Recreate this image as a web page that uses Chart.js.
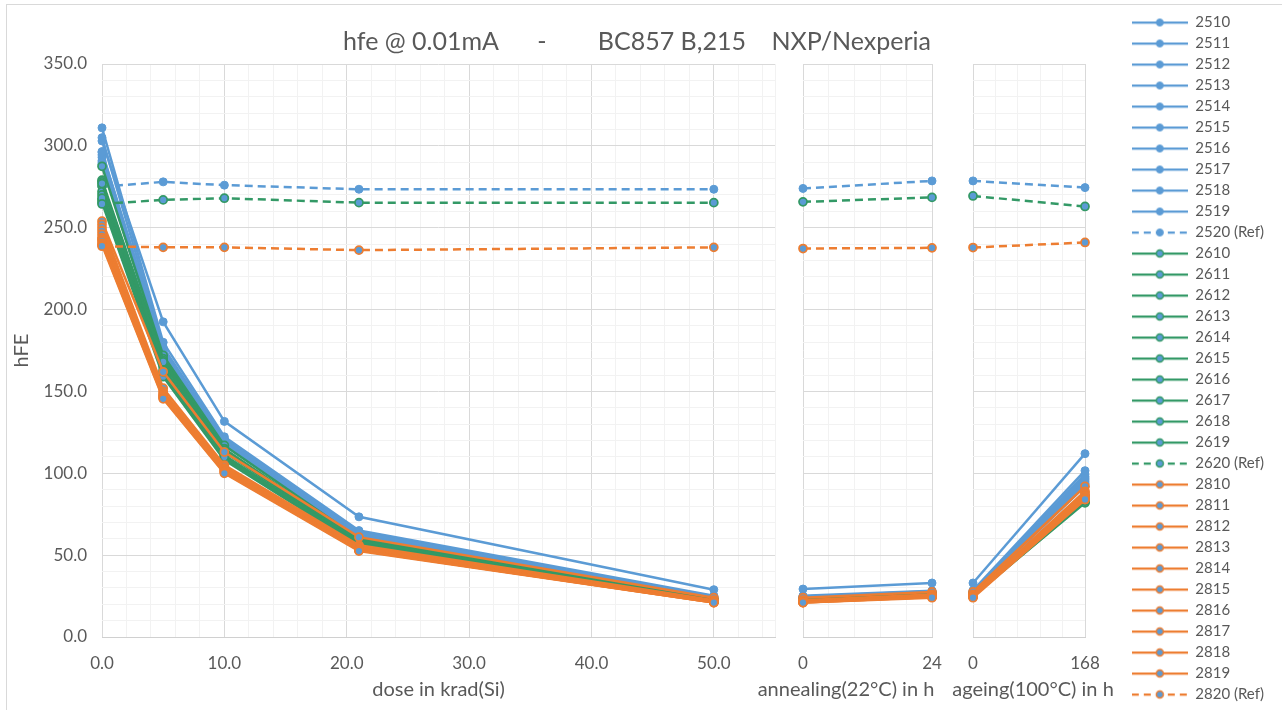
<!DOCTYPE html>
<html>
<head>
<meta charset="utf-8">
<script src="https://cdn.jsdelivr.net/npm/chart.js@4.4.1/dist/chart.umd.min.js"></script>
<style>
  body { margin: 0; background: #fff; }
  #frame { position: absolute; left: 6px; top: 4px; width: 1300px; height: 720px; border: 1px solid #d9d9d9; }
  canvas { position: absolute; top: 0; }
  #dose { left: 0; }
  #anneal { left: 728px; }
  #age { left: 943px; }
</style>
</head>
<body>
<div id="frame"></div>
<canvas id="dose" width="1282" height="710"></canvas>
<canvas id="anneal" width="236" height="710"></canvas>
<canvas id="age" width="180" height="710"></canvas>
<script>
// x positions of the three panels
const doseKrad = [0, 5, 10, 21, 50];
const annealHours = [0, 24];
const ageHours = [0, 168];

const sampleNames = [
  '2510', '2511', '2512', '2513', '2514', '2515', '2516', '2517', '2518', '2519', '2520 (Ref)',
  '2610', '2611', '2612', '2613', '2614', '2615', '2616', '2617', '2618', '2619', '2620 (Ref)',
  '2810', '2811', '2812', '2813', '2814', '2815', '2816', '2817', '2818', '2819', '2820 (Ref)'
];

// hFE per sample, one row per entry of sampleNames
const doseHfe = [
  [303, 192.5, 131.7, 73.4, 28.9],
  [311, 180, 122.3, 65, 25.2],
  [305, 177, 121, 64, 24.8],
  [296, 175, 120, 63.5, 24.5],
  [294.5, 174, 119, 63, 24.3],
  [293, 173, 118.5, 62.5, 24],
  [291, 172, 118, 62, 24],
  [289, 171, 117.5, 62, 23.8],
  [296.5, 176, 120.5, 63.5, 24.5],
  [290, 171.5, 117, 61.5, 23.5],
  [275, 278, 276, 273.5, 273.5],
  [287.5, 172, 117, 60, 23],
  [279, 170, 115, 59, 22.5],
  [278, 169, 114, 58.5, 22.5],
  [275.5, 167, 113, 58, 22],
  [272, 165, 111, 57.5, 22],
  [270, 163, 110, 57, 22],
  [267, 161, 109, 56.5, 21.5],
  [265.5, 159, 108, 56, 21.5],
  [277, 168, 114, 58.5, 22.5],
  [268, 162, 110, 57, 22],
  [264.5, 267, 268, 265.3, 265.3],
  [254, 162, 113, 61, 24],
  [252, 152, 105, 56, 22.5],
  [250, 150, 104, 55.5, 22],
  [248, 149, 103, 55, 22],
  [246, 148, 102.5, 54.5, 21.5],
  [244, 147.5, 102, 54, 21.5],
  [243, 147, 101.5, 53.5, 21.5],
  [242, 146.5, 101, 53, 21],
  [240.5, 146, 100.5, 53, 21],
  [239.5, 145.5, 100, 52.5, 21],
  [238.7, 238, 238, 236.3, 238]
];

const annealHfe = [
  [29.3, 33], [25.2, 28.3], [24.8, 28], [24.5, 27.5], [24.3, 27.3], [24, 27], [24, 27], [23.8, 26.8], [24.5, 27.5], [23.5, 26.5],
  [274, 278.6],
  [23, 26.5], [22.5, 26], [22.5, 26], [22, 25.5], [22, 25.5], [22, 25], [21.5, 25], [21.5, 25], [22.5, 26], [22, 25.5],
  [265.8, 268.5],
  [24, 27.5], [22.5, 26], [22, 25.5], [22, 25.5], [21.5, 25], [21.5, 25], [21.5, 24.5], [21, 24.5], [21, 24.5], [21, 24],
  [237.3, 237.7]
];

const ageHfe = [
  [33, 112], [28.5, 101.6], [28, 99.5], [27.5, 98], [27.3, 96], [27, 95], [27, 94], [26.8, 93.4], [27.5, 97], [26.5, 92],
  [278.6, 274.5],
  [26.5, 86], [26, 85], [26, 84.5], [25.5, 84], [25.5, 83.5], [25, 83], [25, 82.5], [25, 82], [26, 85], [25.5, 83],
  [269.4, 263],
  [27.5, 92], [26, 89], [25.5, 88], [25.5, 87], [25, 86], [25, 86], [25, 85], [24.5, 85], [24.5, 84], [24, 84],
  [237.9, 241]
];

const BLUE = '#5B9BD5';
const GREEN = '#339966';
const ORANGE = '#ED7D31';
const TXT = '#595959';
const MAJOR = '#d9d9d9';
const MINOR = '#f2f2f2';

Chart.defaults.font.family = 'Lato';
Chart.defaults.color = TXT;

function groupColor(name) {
  if (name.startsWith('25')) return BLUE;
  if (name.startsWith('26')) return GREEN;
  return ORANGE;
}

function makeIcon(color, dashed) {
  const c = document.createElement('canvas');
  c.width = 56; c.height = 12;
  const g = c.getContext('2d');
  g.strokeStyle = color;
  g.lineWidth = 2.25;
  if (dashed) g.setLineDash([7, 5]);
  g.beginPath(); g.moveTo(0, 6); g.lineTo(56, 6); g.stroke();
  g.setLineDash([]);
  g.beginPath(); g.arc(28, 6, 3.5, 0, Math.PI * 2);
  g.fillStyle = BLUE; g.fill();
  g.lineWidth = color === BLUE ? 1 : 1.5;
  g.stroke();
  return c;
}
const icons = sampleNames.map(n => makeIcon(groupColor(n), n.includes('Ref')));

function datasets(xs, table) {
  return sampleNames.map((name, i) => {
    const col = groupColor(name);
    return {
      label: name,
      data: xs.map((x, k) => ({ x: x, y: table[i][k] })),
      borderColor: col,
      backgroundColor: col,
      borderWidth: 2.5,
      borderDash: name.includes('Ref') ? [8, 5] : [],
      pointRadius: 4,
      pointHoverRadius: 4,
      pointBackgroundColor: BLUE,
      pointBorderColor: col,
      pointBorderWidth: col === BLUE ? 1 : 1.75,
      tension: 0,
      clip: false,
      order: -i
    };
  });
}

function yAxis(width, labels) {
  return {
    type: 'linear', position: 'left', min: 0, max: 350,
    border: { display: false },
    grid: { drawTicks: false, color: c => (c.tick && c.tick.value % 50 === 0) ? MAJOR : MINOR },
    ticks: {
      display: labels, stepSize: 10, autoSkip: false, padding: 15, color: TXT, font: { size: 17 },
      callback: v => v % 50 === 0 ? v.toFixed(1) : ''
    },
    title: { display: labels, text: 'hFE', color: TXT, font: { size: 20 }, padding: { top: 10, bottom: 0 } },
    afterFit: s => { s.width = width; }
  };
}

function xAxis(min, max, step, isMajor, fmt, title, height) {
  return {
    type: 'linear', position: 'bottom', min: min, max: max, bounds: 'data',
    border: { display: true, color: '#d0d0d0' },
    grid: { drawTicks: false, color: c => (c.tick && isMajor(c.tick.value)) ? MAJOR : MINOR },
    ticks: {
      stepSize: step, includeBounds: false, autoSkip: false, maxRotation: 0, padding: 16,
      color: TXT, font: { size: 17 },
      callback: v => isMajor(v) ? fmt(v) : ''
    },
    title: { display: !!title, text: title, color: TXT, font: { size: 20 }, padding: { top: 0, bottom: 6 } },
    afterFit: s => { s.height = height; }
  };
}

function spacer(position, size) {
  return {
    type: 'linear', position: position, display: true,
    grid: { display: false }, ticks: { display: false }, border: { display: false },
    afterFit: s => {
      const v = typeof size === 'function' ? size(s) : size;
      if (position === 'top' || position === 'bottom') s.height = v; else s.width = v;
    }
  };
}

// axis title drawn under a narrow panel, as the chart's bottom title
function panelTitle(text) {
  return {
    display: true, position: 'bottom', text: text, color: TXT,
    font: { size: 20, weight: 'normal' }, padding: { top: 0, bottom: 8 }
  };
}

const baseOptions = {
  responsive: false,
  animation: false,
  events: []
};

// panel 1: dose, with chart title and legend
new Chart(document.getElementById('dose'), {
  type: 'line',
  data: { datasets: datasets(doseKrad, doseHfe) },
  options: {
    ...baseOptions,
    layout: { padding: { right: 8, bottom: 2 }, autoPadding: false },
    plugins: {
      tooltip: { enabled: false },
      title: {
        display: true,
        text: 'hfe @ 0.01mA      -        BC857 B,215    NXP/Nexperia',
        color: TXT,
        font: { size: 25, weight: 'normal' },
        padding: { top: 27, bottom: 7 }
      },
      legend: {
        display: true,
        position: 'right',
        align: 'end',
        labels: {
          usePointStyle: true,
          pointStyleWidth: 56,
          boxHeight: 12,
          padding: 6,
          color: TXT,
          font: { size: 15 },
          generateLabels: chart => Chart.defaults.plugins.legend.labels.generateLabels(chart)
            .map(l => ({ ...l, pointStyle: icons[l.datasetIndex] })),
          sort: (a, b) => a.datasetIndex - b.datasetIndex
        }
      }
    },
    scales: {
      x: xAxis(0, 55, 2, v => v % 10 === 0, v => v.toFixed(1), 'dose in krad(Si)', 71),
      y: yAxis(102, true),
      padRight: spacer('right', s => Math.max(0, 1282 - 8 - 775 - s.chart.legend.width))
    }
  }
});

// panel 2: annealing
new Chart(document.getElementById('anneal'), {
  type: 'line',
  data: { datasets: datasets(annealHours, annealHfe) },
  options: {
    ...baseOptions,
    layout: { autoPadding: false },
    plugins: { legend: { display: false }, tooltip: { enabled: false }, title: panelTitle('annealing(22°C) in h') },
    scales: {
      x: xAxis(0, 24, 4.8, v => v === 0 || v === 24, v => String(v), '', 41),
      y: yAxis(803 - 728, false),
      padTop: spacer('top', 64),
      padRight: spacer('right', 728 + 236 - 932)
    }
  }
});

// panel 3: ageing
new Chart(document.getElementById('age'), {
  type: 'line',
  data: { datasets: datasets(ageHours, ageHfe) },
  options: {
    ...baseOptions,
    layout: { autoPadding: false },
    plugins: { legend: { display: false }, tooltip: { enabled: false }, title: panelTitle('ageing(100°C) in h') },
    scales: {
      x: xAxis(0, 168, 33.6, v => v === 0 || v === 168, v => String(v), '', 41),
      y: yAxis(973 - 943, false),
      padTop: spacer('top', 64),
      padRight: spacer('right', 943 + 180 - 1085)
    }
  }
});
</script>
</body>
</html>
